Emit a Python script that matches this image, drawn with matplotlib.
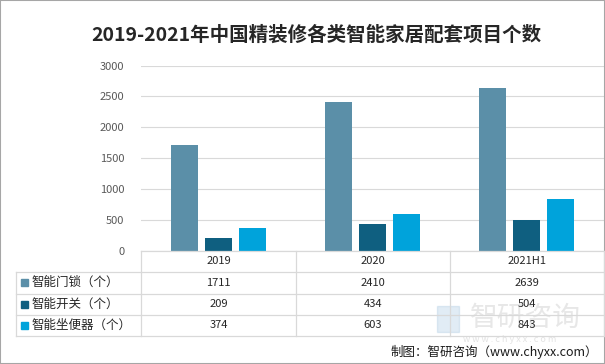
import matplotlib
matplotlib.use("Agg")
import matplotlib.pyplot as plt
from matplotlib.patches import Rectangle
import numpy as np

plt.rcParams['font.family'] = ['Noto Sans CJK SC', 'DejaVu Sans']

# data
years = ['2019', '2020', '2021H1']
series_names = ['智能门锁（个）', '智能开关（个）', '智能坐便器（个）']
door_lock = [1711, 2410, 2639]
switch = [209, 434, 504]
toilet = [374, 603, 843]
colors = ['#5b8fa8', '#0f5f80', '#00a3db']

W, H = 605, 364
fig = plt.figure(figsize=(W / 100, H / 100), dpi=100)


def fx(px):
    return px / W


def fy(py):
    return 1 - py / H


# plot area
left, right, top, bottom = 141, 604, 65.5, 251
ax = fig.add_axes([fx(left), fy(bottom), fx(right - left), fy(top) - fy(bottom)])

x = np.arange(len(years))
bw = 0.175
step = 0.22
for i, vals in enumerate([door_lock, switch, toilet]):
    ax.bar(x + (i - 1) * step, vals, width=bw, color=colors[i], zorder=3)

ax.set_xlim(-0.5, len(years) - 0.5)
ax.set_ylim(0, 3000)
ax.set_yticks(np.arange(0, 3001, 500))
ax.set_xticks([])
ax.grid(axis='y', color='#d9d9d9', linewidth=0.8, zorder=0)
for s in ax.spines.values():
    s.set_visible(False)
ax.tick_params(axis='y', length=0, pad=12, labelsize=8, labelcolor='#595959')

# title
fig.text(fx(316), fy(35), '2019-2021年中国精装修各类智能家居配套项目个数',
         ha='center', va='center', fontsize=14, fontweight='bold', color='#262626')

# data table
line_kw = dict(color='#d9d9d9', linewidth=0.9, transform=fig.transFigure)
col_edges = [141, 296, 450, 604]
row_edges = [251, 272, 293.5, 315, 336]
fig.add_artist(plt.Line2D([fx(141), fx(604)], [fy(251), fy(251)], **line_kw))
for r in row_edges[1:]:
    fig.add_artist(plt.Line2D([fx(16), fx(604)], [fy(r), fy(r)], **line_kw))
for c in col_edges:
    fig.add_artist(plt.Line2D([fx(c), fx(c)], [fy(251), fy(336)], **line_kw))
fig.add_artist(plt.Line2D([fx(16), fx(16)], [fy(272), fy(336)], **line_kw))

for j, yr in enumerate(years):
    cx = (col_edges[j] + col_edges[j + 1]) / 2
    fig.text(fx(cx), fy(261.5), yr, ha='center', va='center', fontsize=8, color='#262626')

for i, vals in enumerate([door_lock, switch, toilet]):
    cy = (row_edges[i + 1] + row_edges[i + 2]) / 2
    fig.add_artist(Rectangle((fx(21), fy(cy + 3.5)), fx(7), fy(0) - fy(7),
                             color=colors[i], transform=fig.transFigure))
    fig.text(fx(32), fy(cy), series_names[i], ha='left', va='center', fontsize=9, color='#262626')
    for j, v in enumerate(vals):
        cx = (col_edges[j] + col_edges[j + 1]) / 2
        fig.text(fx(cx), fy(cy), str(v), ha='center', va='center', fontsize=8, color='#262626')

# watermark (faint, behind the table values)
fig.text(fx(470), fy(318), '智研咨询', ha='left', va='center', fontsize=20,
         color='#b0b0b0', alpha=0.3, zorder=0)
fig.add_artist(Rectangle((fx(437), fy(332)), fx(22), fy(0) - fy(26),
                         color='#9ec3de', alpha=0.3, transform=fig.transFigure, zorder=0))
fig.text(fx(510), fy(339), 'w w w . c h y x x . c o m', ha='center', va='center',
         fontsize=6.5, color='#b0b0b0', alpha=0.35, zorder=0)

# source
fig.text(fx(598), fy(352), '制图：智研咨询（www.chyxx.com）', ha='right', va='center',
         fontsize=9, color='#1a1a1a')

# frame
fig.add_artist(Rectangle((0, 0), 1, 1, fill=False, edgecolor='#a6a6a6',
                         linewidth=1.5, transform=fig.transFigure))

fig.savefig('out.png', dpi=100)
